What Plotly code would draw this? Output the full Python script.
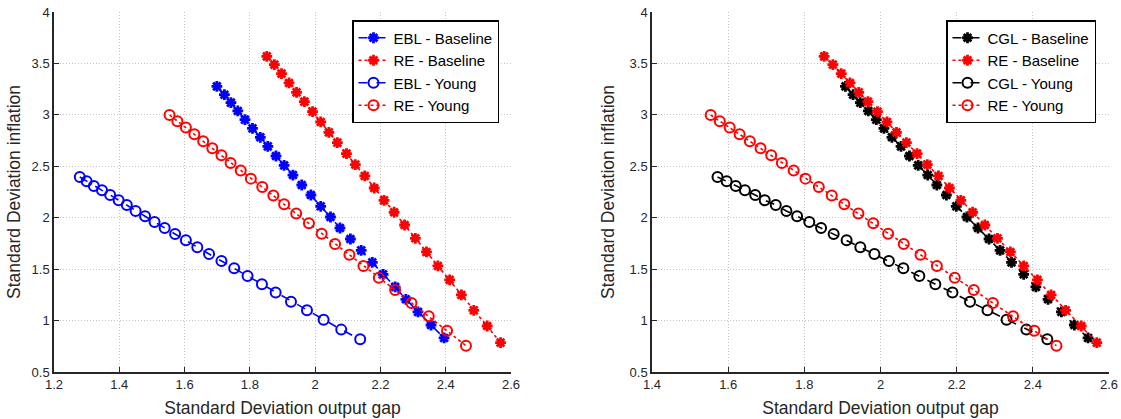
import plotly.graph_objects as go

# ---------------- data ----------------
# Left panel: EBL vs RE
ebl_base_x = [1.699, 1.722, 1.742, 1.763, 1.785, 1.808, 1.832, 1.855, 1.880, 1.905, 1.932, 1.959, 1.987,
              2.017, 2.047, 2.076, 2.108, 2.141, 2.175, 2.208, 2.245, 2.278, 2.315, 2.355, 2.395]
ebl_base_y = [3.277, 3.196, 3.119, 3.038, 2.953, 2.869, 2.782, 2.694, 2.600, 2.509, 2.415, 2.318, 2.221,
              2.111, 2.007, 1.900, 1.793, 1.683, 1.566, 1.450, 1.327, 1.207, 1.084, 0.957, 0.831]

re_base_x = [1.852, 1.875, 1.897, 1.920, 1.943, 1.967, 1.992, 2.017, 2.042, 2.068, 2.096, 2.123, 2.152,
             2.181, 2.211, 2.242, 2.274, 2.307, 2.341, 2.376, 2.412, 2.448, 2.486, 2.527, 2.568]
re_base_y = [3.569, 3.488, 3.401, 3.310, 3.219, 3.128, 3.031, 2.931, 2.830, 2.730, 2.623, 2.516, 2.406,
             2.289, 2.169, 2.053, 1.929, 1.800, 1.667, 1.531, 1.395, 1.249, 1.100, 0.947, 0.785]

ebl_young_x = [1.279, 1.300, 1.322, 1.347, 1.372, 1.398, 1.423, 1.450, 1.479, 1.508, 1.539, 1.571, 1.604,
               1.639, 1.675, 1.713, 1.752, 1.793, 1.837, 1.879, 1.926, 1.975, 2.026, 2.080, 2.138]
ebl_young_y = [2.396, 2.354, 2.309, 2.266, 2.221, 2.169, 2.124, 2.065, 2.014, 1.959, 1.900, 1.842, 1.780,
               1.712, 1.647, 1.579, 1.508, 1.434, 1.353, 1.272, 1.184, 1.100, 1.009, 0.912, 0.818]

re_young_x = [1.554, 1.578, 1.604, 1.630, 1.657, 1.685, 1.713, 1.741, 1.772, 1.803, 1.838, 1.872, 1.905,
              1.942, 1.981, 2.020, 2.061, 2.105, 2.148, 2.195, 2.245, 2.295, 2.348, 2.404, 2.462]
re_young_y = [2.999, 2.937, 2.876, 2.811, 2.743, 2.675, 2.607, 2.532, 2.458, 2.380, 2.299, 2.215, 2.130,
              2.040, 1.946, 1.845, 1.745, 1.641, 1.531, 1.417, 1.297, 1.171, 1.041, 0.902, 0.756]

# Right panel: CGL vs RE
cgl_base_x = [1.908, 1.928, 1.947, 1.968, 1.989, 2.009, 2.030, 2.054, 2.076, 2.099, 2.124, 2.148, 2.173,
              2.199, 2.227, 2.256, 2.285, 2.314, 2.344, 2.376, 2.408, 2.440, 2.475, 2.509, 2.545]
cgl_base_y = [3.277, 3.196, 3.119, 3.038, 2.953, 2.869, 2.782, 2.694, 2.600, 2.509, 2.415, 2.318, 2.221,
              2.111, 2.007, 1.900, 1.793, 1.683, 1.566, 1.450, 1.327, 1.207, 1.084, 0.957, 0.831]

cgl_young_x = [1.572, 1.596, 1.620, 1.644, 1.671, 1.696, 1.725, 1.753, 1.781, 1.813, 1.844, 1.877, 1.911,
               1.947, 1.984, 2.022, 2.060, 2.102, 2.144, 2.189, 2.235, 2.281, 2.331, 2.383, 2.438]
cgl_young_y = [2.396, 2.354, 2.309, 2.266, 2.221, 2.169, 2.124, 2.065, 2.014, 1.959, 1.900, 1.842, 1.780,
               1.712, 1.647, 1.579, 1.508, 1.434, 1.353, 1.272, 1.184, 1.100, 1.009, 0.912, 0.818]

x_ticks_left = [1.2, 1.4, 1.6, 1.8, 2.0, 2.2, 2.4, 2.6]
x_ticks_right = [1.4, 1.6, 1.8, 2.0, 2.2, 2.4, 2.6]
y_ticks = [0.5, 1, 1.5, 2, 2.5, 3, 3.5, 4]

x_title = "Standard Deviation output gap"
y_title = "Standard Deviation inflation"

# ---------------- styles ----------------
BLUE, RED, BLACK = "#0000ff", "#ff0000", "#000000"
TXT = "#262626"
FONT = "Liberation Sans, Arial, sans-serif"


def star(color):
    return dict(symbol="asterisk-open", size=9, color=color, line=dict(color=color, width=2.8))


def ring(color):
    return dict(symbol="circle-open", size=10, color=color, line=dict(color=color, width=2))


fig = go.Figure()

panels = [
    ("x", "y", "legend",
     [("EBL - Baseline", ebl_base_x, ebl_base_y, BLUE, "dash", star),
      ("RE - Baseline", re_base_x, re_base_y, RED, "dot", star),
      ("EBL - Young", ebl_young_x, ebl_young_y, BLUE, "dash", ring),
      ("RE - Young", re_young_x, re_young_y, RED, "dot", ring)]),
    ("x2", "y2", "legend2",
     [("CGL - Baseline", cgl_base_x, cgl_base_y, BLACK, "dash", star),
      ("RE - Baseline", re_base_x, re_base_y, RED, "dot", star),
      ("CGL - Young", cgl_young_x, cgl_young_y, BLACK, "dash", ring),
      ("RE - Young", re_young_x, re_young_y, RED, "dot", ring)]),
]

for xa, ya, lg, series in panels:
    for name, xs, ys, col, dash, mk in series:
        fig.add_trace(go.Scatter(
            x=xs, y=ys, name=name, mode="lines+markers",
            line=dict(color=col, width=1.6, dash=dash),
            marker=mk(col), xaxis=xa, yaxis=ya, legend=lg,
        ))

axis_common = dict(
    showline=True, linecolor=TXT, linewidth=1.5, mirror=False,
    ticks="inside", ticklen=5, tickwidth=1, tickcolor=TXT,
    showgrid=True, gridcolor="#c4c4c4", griddash="1px,2px", gridwidth=1,
    zeroline=False, tickfont=dict(size=13, color=TXT, family=FONT),
    title_font=dict(size=17.5, color=TXT, family=FONT),
    automargin=False,
)

W, H = 1121, 419
ML, MR, MT, MB = 54, 12, 12, 47
PW = W - ML - MR


def px2x(px):
    return (px - ML) / PW


def py2y(py):
    return (H - MB - py) / (H - MT - MB)


legend_common = dict(xanchor="right", y=py2y(20), yanchor="top",
                     bgcolor="white", bordercolor=BLACK, borderwidth=1.5,
                     font=dict(size=15, color=BLACK, family=FONT), tracegroupgap=0)

fig.update_layout(
    width=W, height=H,
    margin=dict(l=ML, r=MR, t=MT, b=MB),
    paper_bgcolor="white", plot_bgcolor="white",
    font=dict(family=FONT, color=TXT),
    xaxis=dict(domain=[px2x(54), px2x(511)], range=[1.2, 2.6], tickvals=x_ticks_left,
               title=dict(text=x_title, standoff=10), anchor="y", **axis_common),
    yaxis=dict(domain=[0, 1], range=[0.5, 4], tickvals=y_ticks,
               title=dict(text=y_title, standoff=6), anchor="x", **axis_common),
    xaxis2=dict(domain=[px2x(652), px2x(1109)], range=[1.4, 2.6], tickvals=x_ticks_right,
                title=dict(text=x_title, standoff=10), anchor="y2", **axis_common),
    yaxis2=dict(domain=[0, 1], range=[0.5, 4], tickvals=y_ticks,
                title=dict(text=y_title, standoff=10), anchor="x2", **axis_common),
    legend=dict(x=px2x(499), **legend_common),
    legend2=dict(x=px2x(1096), **legend_common),
    showlegend=True,
)

fig.write_html("out.html")
